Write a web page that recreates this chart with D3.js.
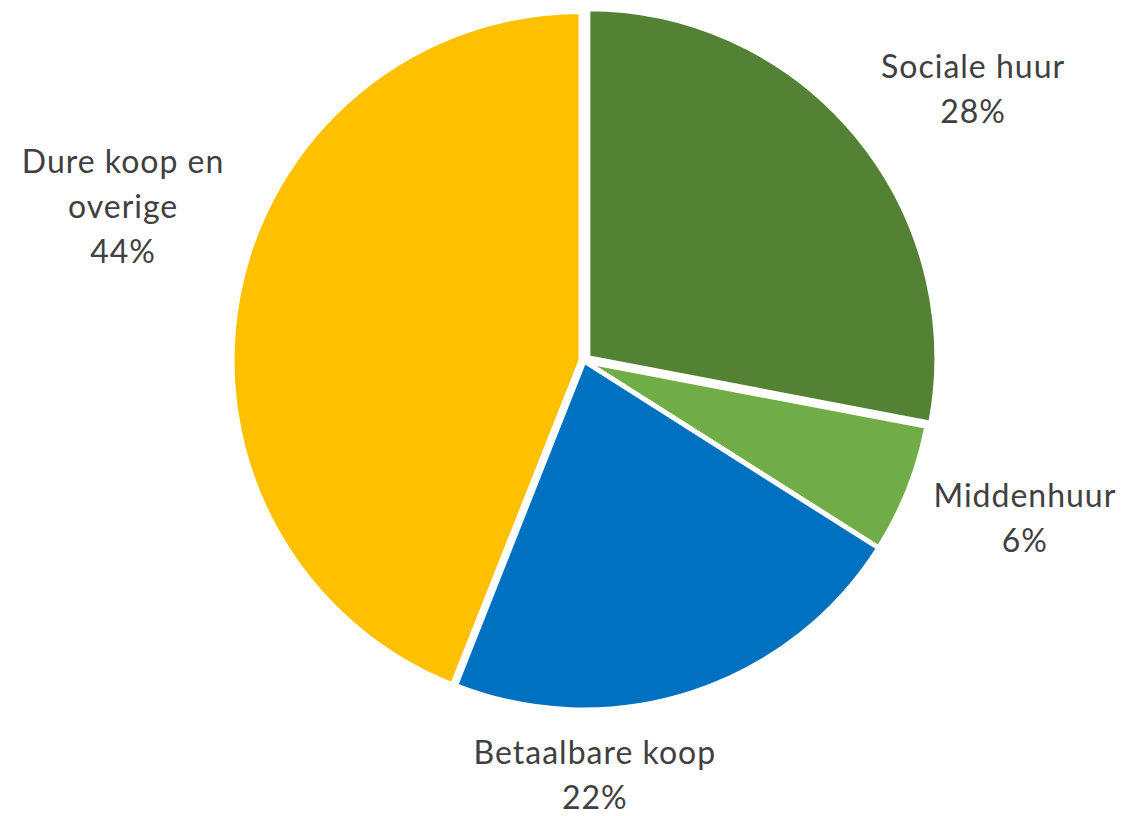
<!DOCTYPE html>
<html>
<head>
<meta charset="utf-8">
<script src="https://cdn.jsdelivr.net/npm/d3@7"></script>
<style>
  html, body { margin: 0; padding: 0; background: #ffffff; }
  svg { display: block; }
</style>
</head>
<body>
<svg id="chart" width="1143" height="816"></svg>
<script>
// Housing mix by segment (share of total, %)
const categories = ["Sociale huur", "Middenhuur", "Betaalbare koop", "Dure koop en overige"];
const shares = [28, 6, 22, 44];
const labelLines = [["Sociale huur"], ["Middenhuur"], ["Betaalbare koop"], ["Dure koop en", "overige"]];
const colors = ["#548235", "#70ad47", "#0070c0", "#ffc000"];

const width = 1143, height = 816;
const cx = 584, cy = 361, radius = 349;

// small outward offset for the exploded slices
const explode = { "Sociale huur": 5, "Dure koop en overige": 3 };

const svg = d3.select("#chart");
const g = svg.append("g").attr("transform", `translate(${cx},${cy})`);

const data = categories.map((c, i) => ({ name: c, value: shares[i], color: colors[i], lines: labelLines[i] }));

const pie = d3.pie().value(d => d.value).sort(null);
const arc = d3.arc().innerRadius(0).outerRadius(radius);
const arcs = pie(data);

g.selectAll("path.slice")
  .data(arcs)
  .join("path")
  .attr("class", "slice")
  .attr("d", arc)
  .attr("fill", d => d.data.color)
  .attr("stroke", "#ffffff")
  .attr("stroke-width", 5)
  .attr("stroke-linejoin", "round")
  .attr("transform", d => {
    const off = explode[d.data.name] || 0;
    const mid = (d.startAngle + d.endAngle) / 2;
    return `translate(${off * Math.sin(mid)},${-off * Math.cos(mid)})`;
  });

// Outside labels: polar placement (degrees clockwise from 12 o'clock, distance from centre)
const labelPolar = {
  "Sociale huur": [55, 475],
  "Middenhuur": [109.6, 468],
  "Betaalbare koop": [178.5, 414],
  "Dure koop en overige": [288.5, 486]
};
const lineH = 45;
const fontSize = 32;
const capHalf = fontSize * 0.36;

g.selectAll("text.lbl")
  .data(arcs)
  .join("text")
  .attr("class", "lbl")
  .attr("text-anchor", "middle")
  .attr("font-family", "Lato, 'Open Sans', sans-serif")
  .attr("font-size", fontSize)
  .attr("letter-spacing", 1)
  .attr("fill", "#404040")
  .each(function(d) {
    const [deg, r] = labelPolar[d.data.name];
    const a = deg * Math.PI / 180;
    const x = r * Math.sin(a);
    const y = -r * Math.cos(a);
    const all = d.data.lines.concat([d.data.value + "%"]);
    const top = y - (all.length - 1) * lineH / 2 + capHalf;
    const t = d3.select(this);
    all.forEach((s, i) => {
      t.append("tspan").attr("x", x).attr("y", top + i * lineH).text(s);
    });
  });
</script>
</body>
</html>
